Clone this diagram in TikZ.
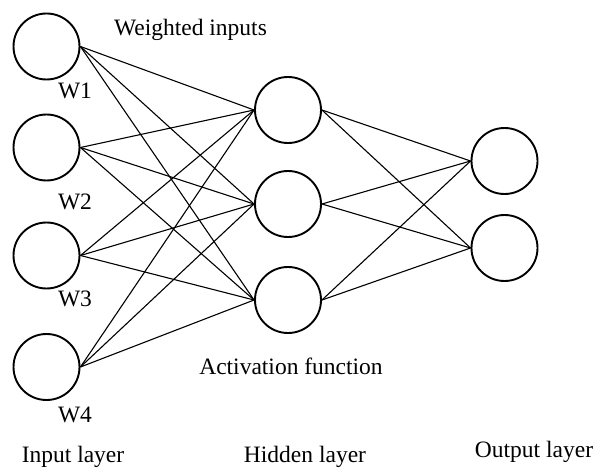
\documentclass[tikz,border=0pt]{standalone}
\usepackage{fontspec}
\setmainfont{Liberation Serif}
\begin{document}
\begin{tikzpicture}[x=1pt,y=-1pt,
  neuron/.style={circle,draw,line width=1.9pt,minimum size=66pt,inner sep=0pt},
  conn/.style={line width=1.1pt},
  lbl/.style={font=\fontsize{23.5}{26}\selectfont,inner sep=0pt,anchor=base}]
\useasboundingbox (0,0) rectangle (595,468);
% input layer
\node[neuron] (i1) at (46.5,46.5) {};
\node[neuron] (i2) at (46.5,147.5) {};
\node[neuron] (i3) at (46.5,255.5) {};
\node[neuron] (i4) at (46.5,367) {};
% hidden layer
\node[neuron] (h1) at (288,110) {};
\node[neuron] (h2) at (288,204) {};
\node[neuron] (h3) at (288,300) {};
% output layer
\node[neuron] (o1) at (504.5,161) {};
\node[neuron] (o2) at (504.5,248) {};
% connections
\foreach \i in {1,2,3,4}{
  \foreach \h in {1,2,3}{
    \draw[conn] (i\i.east) -- (h\h.west);
  }
}
\foreach \h in {1,2,3}{
  \foreach \o in {1,2}{
    \draw[conn] (h\h.east) -- (o\o.west);
  }
}
% labels
\node[lbl] (wi) at (190.5,36) {Weighted inputs};
\node[lbl] (w1) at (75,99) {W1};
\node[lbl] (w2) at (75,210) {W2};
\node[lbl] (w3) at (75,306) {W3};
\node[lbl] (w4) at (75,422) {W4};
\node[lbl] (af) at (291,374) {Activation function};
\node[lbl] (il) at (73,462) {Input layer};
\node[lbl] (hl) at (305,462) {Hidden layer};
\node[lbl] (ol) at (534,457) {Output layer};
\end{tikzpicture}
\end{document}
